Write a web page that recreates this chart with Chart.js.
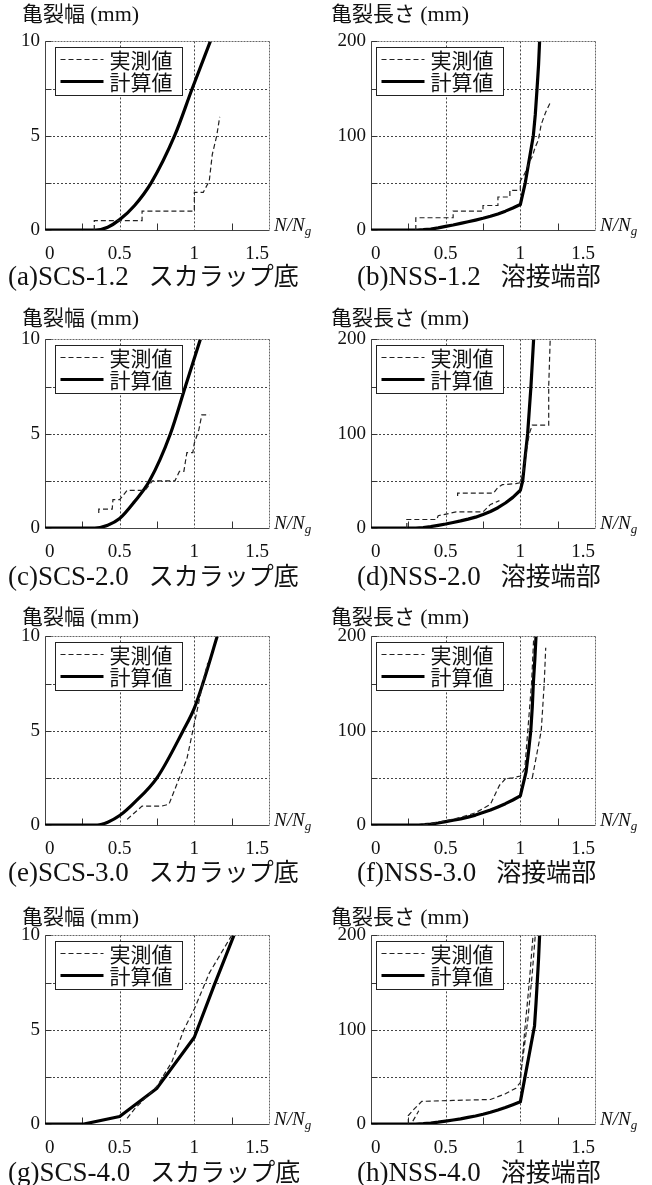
<!DOCTYPE html>
<html lang="ja">
<head>
<meta charset="utf-8">
<title>亀裂進展</title>
<script src="https://cdn.jsdelivr.net/npm/chart.js@4/dist/chart.umd.min.js"></script>
<style>
  html, body { margin: 0; padding: 0; background: #fff; }
  body {
    width: 652px; height: 1185px; position: relative; overflow: hidden;
    font-family: "Liberation Serif", "Noto Sans CJK JP", serif; color: #111;
  }
  canvas { position: absolute; }
  .ytitle { position: absolute; font-size: 21px; line-height: 1; white-space: nowrap; }
  .ytitle .u { font-size: 22px; }
  .caption { position: absolute; font-size: 27px; line-height: 1; white-space: nowrap; }
  .caption .part { margin-left: 20px; font-size: 25px; }
  .xname { position: absolute; font-size: 19px; line-height: 1; font-style: italic; white-space: nowrap; }
  .xname sub { font-size: 13px; vertical-align: -4px; }
</style>
</head>
<body>
<script>
// ---- tick labels and legend text ----
const xTickLabels = ['0', '0.5', '1', '1.5'];
const widthTickLabels = ['0', '5', '10'];
const lengthTickLabels = ['0', '100', '200'];
const legendLabels = ['実測値', '計算値'];
const widthTitle = ['亀裂幅', '(mm)'];
const lengthTitle = ['亀裂長さ', '(mm)'];
const caseNames = ['(a)SCS-1.2', '(b)NSS-1.2', '(c)SCS-2.0', '(d)NSS-2.0',
                   '(e)SCS-3.0', '(f)NSS-3.0', '(g)SCS-4.0', '(h)NSS-4.0'];
const partNames = ['スカラップ底', '溶接端部'];

// ---- (a) SCS-1.2 : crack width ----
const calcXa = [0, 0.34, 0.42, 0.5, 0.6, 0.711, 0.868, 0.986, 1.107];
const calcYa = [0, 0, 0.15, 0.55, 1.3, 2.5, 5, 7.5, 10];
const measXa = [0.33, 0.33, 0.65, 0.65, 1.0, 1.0, 1.06, 1.1, 1.12, 1.15, 1.17];
const measYa = [0, 0.5, 0.5, 1.0, 1.0, 2.0, 2.0, 2.6, 4.0, 5.0, 6.0];

// ---- (b) NSS-1.2 : crack length ----
const calcXb = [0, 0.31, 0.35, 0.4, 0.45, 0.5, 0.55, 0.6, 0.65, 0.7, 0.75, 0.8, 0.85, 0.9, 0.95, 1.0,
                1.033, 1.06, 1.087, 1.1, 1.112, 1.122, 1.129];
const calcYb = [0, 0, 0.3, 1.0, 2.2, 3.8, 5.3, 7, 8.7, 10.5, 12.4, 14.5, 17, 20, 23.3, 27,
                50, 75, 100, 122, 150, 175, 200];
const measXb = [0.30, 0.30, 0.55, 0.55, 0.75, 0.75, 0.85, 0.85, 0.93, 0.93, 1.0, 1.0, 1.03, 1.06, 1.08, 1.10, 1.12, 1.14, 1.17, 1.2];
const measYb = [0, 13, 13, 20, 20, 26, 26, 35, 35, 42, 42, 52, 60, 72, 78, 88, 95, 112, 125, 135];

// ---- (c) SCS-2.0 ----
const calcXc = [0, 0.333, 0.42, 0.5, 0.6, 0.7, 0.84, 0.94, 1.04];
const calcYc = [0, 0, 0.15, 0.5, 1.4, 2.5, 5, 7.5, 10];
const measXc = [0.36, 0.36, 0.45, 0.455, 0.5, 0.55, 0.67, 0.72, 0.87, 0.9, 0.93, 0.95, 0.99, 1.0, 1.03, 1.05, 1.1];
const measYc = [0.8, 1.0, 1.0, 1.5, 1.5, 2.0, 2.0, 2.5, 2.5, 3.0, 3.0, 4.0, 4.0, 4.5, 5.2, 6.0, 6.0];

// ---- (d) NSS-2.0 (two measured branches, split by a gap) ----
const calcXd = [0, 0.3, 0.35, 0.4, 0.45, 0.5, 0.55, 0.6, 0.65, 0.7, 0.75, 0.8, 0.85, 0.9, 0.95, 1.0,
                1.016, 1.03, 1.049, 1.06, 1.071, 1.08, 1.089];
const calcYd = [0, 0, 0.5, 1.5, 2.8, 4.2, 5.8, 7.5, 9.4, 11.5, 14.3, 17.5, 21.5, 26.5, 32.5, 40,
                50, 72, 100, 125, 150, 175, 200];
const measXd = [0.24, 0.24, 0.44, 0.45, 0.57, 0.75, 0.8, 0.86, 0.86,
                0.58, 0.58, 0.82, 0.85, 0.88, 0.97, 1.0, 1.02, 1.04, 1.06, 1.08, 1.19, 1.19, 1.2];
const measYd = [0, 9, 9, 13, 17, 17, 25, 29, null,
                34, 37, 37, 43, 46, 47, 48, 60, 80, 100, 109, 109, 150, 200];

// ---- (e) SCS-3.0 ----
const calcXe = [0, 0.35, 0.42, 0.5, 0.6, 0.75, 0.925, 1.0, 1.057, 1.153];
const calcYe = [0, 0, 0.15, 0.5, 1.2, 2.5, 5, 6.2, 7.5, 10];
const measXe = [0.55, 0.65, 0.78, 0.83, 0.9, 0.95, 0.99, 1.03, 1.07, 1.09];
const measYe = [0.3, 1.0, 1.0, 1.1, 2.5, 3.5, 5.0, 6.5, 8.0, 8.6];

// ---- (f) NSS-3.0 ----
const calcXf = [0, 0.32, 0.36, 0.4, 0.45, 0.5, 0.55, 0.6, 0.65, 0.7, 0.75, 0.8, 0.85, 0.9, 0.95, 1.0,
                1.038, 1.055, 1.07, 1.08, 1.087, 1.097, 1.105];
const calcYf = [0, 0, 0.4, 1, 2.1, 3.5, 5, 6.5, 8.4, 10.5, 13.2, 16, 19.2, 22.6, 26.5, 31,
                56, 78, 100, 125, 150, 175, 200];
const measXf = [0.35, 0.5, 0.6, 0.7, 0.8, 0.86, 0.9, 0.95, 1.0, 1.03, 1.05, 1.075, 1.09, 1.09,
                1.08, 1.14, 1.16, 1.17];
const measYf = [0, 4.5, 8, 13, 22, 42, 49, 50, 52, 60, 100, 150, 200, null,
                50, 100, 150, 188];

// ---- (g) SCS-4.0 ----
const calcXg = [0, 0.26, 0.5, 0.75, 1.0, 1.13, 1.265];
const calcYg = [0, 0, 0.4, 1.9, 4.6, 7.3, 10];
const measXg = [0.55, 0.6, 0.75, 0.85, 0.93, 1.0, 1.1, 1.25];
const measYg = [0.3, 0.8, 2.0, 3.3, 5.0, 6.1, 8.0, 10];

// ---- (h) NSS-4.0 ----
const calcXh = [0, 0.3, 0.35, 0.4, 0.45, 0.5, 0.55, 0.6, 0.65, 0.7, 0.75, 0.8, 0.85, 0.9, 0.95, 1.0,
                1.095, 1.105, 1.113, 1.122, 1.129];
const calcYh = [0, 0, 0.4, 1, 1.9, 3, 4.2, 5.5, 7, 8.5, 10.4, 12.5, 14.9, 17.5, 20.4, 23.5,
                104, 128, 150, 175, 200];
const measXh = [0.25, 0.25, 0.29, 0.34, 0.55, 0.8, 0.9, 0.97, 1.0, 1.03, 1.06, 1.085, 1.085,
                0.28, 0.32, 0.32,
                1.0, 1.05, 1.08, 1.1];
const measYh = [0, 9, 16, 24, 25, 26, 32, 38, 44, 100, 150, 200, null,
                3, 14, null,
                50, 110, 160, 200];

// ---- axes decoration values ----
const xGridValues = [0.5, 1.0];
const xMinorTicks = [0.25, 0.75, 1.25];

// ---- page layout ----
const rowTops = [40, 338, 635, 934];
const titleCenters = [14, 318, 617, 917];
const captionCenters = [277, 577, 873, 1173];
const colLefts = [0, 326];
const plotH = 190;
const padTop = 15, axisH = 45;

const pts = (xs, ys) => xs.map((x, i) => ({ x, y: ys[i] }));

// smooth curves: a, c, e ; the rest are drawn as straight segments
const panels = [
  [calcXa, calcYa, measXa, measYa, 10, true],
  [calcXb, calcYb, measXb, measYb, 200, false],
  [calcXc, calcYc, measXc, measYc, 10, true],
  [calcXd, calcYd, measXd, measYd, 200, false],
  [calcXe, calcYe, measXe, measYe, 10, true],
  [calcXf, calcYf, measXf, measYf, 200, false],
  [calcXg, calcYg, measXg, measYg, 10, false],
  [calcXh, calcYh, measXh, measYh, 200, false]
];

// Grid, frame and inward ticks drawn from the chart's scales
const framePlugin = {
  id: 'frame',
  beforeDatasetsDraw(chart) {
    const { ctx, chartArea: { left, right, top, bottom }, scales: { x, y } } = chart;
    const line = (x1, y1, x2, y2) => { ctx.beginPath(); ctx.moveTo(x1, y1); ctx.lineTo(x2, y2); ctx.stroke(); };
    ctx.save();
    ctx.lineWidth = 1;
    ctx.strokeStyle = '#444';
    ctx.setLineDash([2, 2]);
    xGridValues.forEach(v => {
      const px = Math.round(x.getPixelForValue(v)) + 0.5;
      line(px, top, px, bottom);
    });
    y.ticks.forEach(t => {
      if (t.value > y.min && t.value < y.max) {
        const py = Math.round(y.getPixelForValue(t.value)) + 0.5;
        line(left, py, right, py);
      }
    });
    // frame
    ctx.strokeStyle = '#666';
    ctx.setLineDash([2, 1]);
    const l = Math.round(left) + 0.5, r = Math.round(right) + 0.5;
    const t0 = Math.round(top) + 0.5, b = Math.round(bottom) + 0.5;
    line(l, t0, r, t0);
    line(r, t0, r, b);
    ctx.setLineDash([]);
    ctx.strokeStyle = '#444';
    line(l, t0, l, b);
    line(l, b, r, b);
    // inward ticks
    ctx.strokeStyle = '#333';
    xMinorTicks.forEach(v => {
      const px = Math.round(x.getPixelForValue(v)) + 0.5;
      line(px, b, px, b - 7);
    });
    y.ticks.forEach(tk => {
      const py = Math.round(y.getPixelForValue(tk.value)) + 0.5;
      line(l, py, l + 6, py);
    });
    ctx.restore();
  }
};

// Boxed legend placed inside the plot area
const boxLegend = {
  id: 'boxLegend',
  afterDatasetsDraw(chart, args, opts) {
    const { ctx, chartArea } = chart;
    const x0 = Math.round(chartArea.left + opts.dx) + 0.5;
    const y0 = Math.round(chartArea.top + opts.dy) + 0.5;
    const w = 127, h = 48;
    ctx.save();
    ctx.fillStyle = '#fff';
    ctx.fillRect(x0, y0, w, h);
    ctx.strokeStyle = '#222';
    ctx.lineWidth = 1;
    ctx.setLineDash([]);
    ctx.strokeRect(x0, y0, w, h);
    const rows = [12, 34];
    chart.data.datasets.forEach((ds, i) => {
      const yy = y0 + rows[i];
      ctx.strokeStyle = ds.borderColor;
      ctx.lineWidth = ds.borderWidth;
      ctx.setLineDash(ds.borderDash || []);
      ctx.beginPath();
      ctx.moveTo(x0 + 5, yy);
      ctx.lineTo(x0 + 48, yy);
      ctx.stroke();
      ctx.setLineDash([]);
      ctx.fillStyle = '#111';
      ctx.font = '21px "Noto Sans CJK JP"';
      ctx.textBaseline = 'middle';
      ctx.textAlign = 'left';
      ctx.fillText(ds.label, x0 + 54, yy + 1);
    });
    ctx.restore();
  }
};

const tickFont = { family: 'Liberation Serif', size: 19 };

panels.forEach((p, idx) => {
  const [cx, cy, mx, my, yMax, smooth] = p;
  const row = Math.floor(idx / 2), col = idx % 2;
  const left = colLefts[col], rowTop = rowTops[row];
  const yLabels = yMax === 10 ? widthTickLabels : lengthTickLabels;

  const canvas = document.createElement('canvas');
  canvas.width = 326;
  canvas.height = padTop + plotH + axisH;
  canvas.style.left = left + 'px';
  canvas.style.top = (rowTop - padTop) + 'px';
  document.body.appendChild(canvas);

  new Chart(canvas, {
    type: 'line',
    data: {
      datasets: [
        { label: legendLabels[0], data: pts(mx, my), borderColor: '#222', borderWidth: 1.2,
          borderDash: [5, 3], pointRadius: 0, tension: 0, fill: false },
        { label: legendLabels[1], data: pts(cx, cy), borderColor: '#000', borderWidth: 3.2,
          pointRadius: 0, cubicInterpolationMode: smooth ? 'monotone' : 'default',
          tension: 0, fill: false, borderJoinStyle: 'round' }
      ]
    },
    options: {
      responsive: false,
      animation: false,
      devicePixelRatio: 1,
      events: [],
      layout: { padding: { top: padTop, right: 57, left: 0, bottom: 0 } },
      plugins: {
        legend: { display: false },
        tooltip: { enabled: false },
        boxLegend: { dx: col === 0 ? 10 : 5, dy: 6 }
      },
      scales: {
        x: {
          type: 'linear', min: 0, max: 1.5,
          grid: { display: false, drawTicks: false },
          border: { display: false },
          ticks: {
            stepSize: 0.25, autoSkip: false, maxRotation: 0, padding: 13, align: 'inner',
            color: '#111', font: tickFont,
            callback: v => {
              const k = v / 0.5;
              return Math.abs(k - Math.round(k)) < 1e-6 ? xTickLabels[Math.round(k)] : '';
            }
          },
          afterFit: s => { s.height = axisH; }
        },
        y: {
          type: 'linear', min: 0, max: yMax,
          grid: { display: false, drawTicks: false },
          border: { display: false },
          ticks: {
            stepSize: yMax / 4, autoSkip: false, padding: 5,
            color: '#111', font: tickFont,
            callback: v => {
              const k = v / (yMax / 2);
              return Math.abs(k - Math.round(k)) < 1e-6 ? yLabels[Math.round(k)] : '';
            }
          },
          afterFit: s => { s.width = 45; }
        }
      }
    },
    plugins: [framePlugin, boxLegend]
  });

  const t = col === 0 ? widthTitle : lengthTitle;
  const title = document.createElement('div');
  title.className = 'ytitle';
  title.textContent = t[0] + ' ';
  const unit = document.createElement('span');
  unit.className = 'u';
  unit.textContent = t[1];
  title.appendChild(unit);
  title.style.left = (left + (col === 0 ? 22 : 5)) + 'px';
  title.style.top = (titleCenters[row] - 11) + 'px';
  document.body.appendChild(title);

  const xname = document.createElement('div');
  xname.className = 'xname';
  xname.innerHTML = 'N/N<sub>g</sub>';
  xname.style.left = (left + 274) + 'px';
  xname.style.top = (rowTop + plotH - 15) + 'px';
  document.body.appendChild(xname);

  const cap = document.createElement('div');
  cap.className = 'caption';
  const code = document.createElement('span');
  code.textContent = caseNames[idx];
  const part = document.createElement('span');
  part.className = 'part';
  part.textContent = partNames[col];
  cap.appendChild(code);
  cap.appendChild(part);
  cap.style.left = (col === 0 ? 8 : 357) + 'px';
  cap.style.top = (captionCenters[row] - 14) + 'px';
  document.body.appendChild(cap);
});
</script>
</body>
</html>
